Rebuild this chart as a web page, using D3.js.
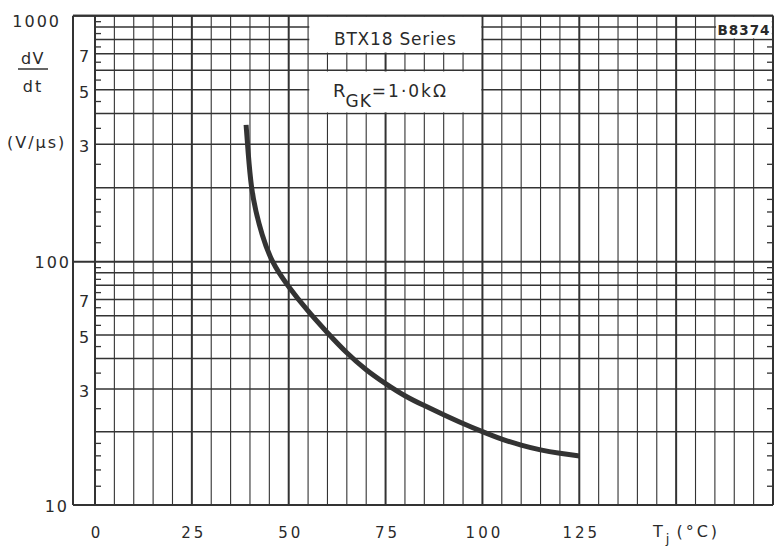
<!DOCTYPE html>
<html>
<head>
<meta charset="utf-8">
<script src="https://cdn.jsdelivr.net/npm/d3@7"></script>
<style>
  body { margin: 0; background: #fff; }
  text { font-family: "DejaVu Sans", sans-serif; fill: #2a2a2a; }
</style>
</head>
<body>
<div id="viz"></div>
<script>
// curve (Tj in degC, dV/dt in V/us)
const temps = [39, 39.5, 40.3, 41.5, 43, 45.5, 49.6, 55, 60, 65, 70, 75, 80, 85, 90, 95, 100, 105, 110, 115, 120, 125];
const dvdt  = [360, 280, 200, 160, 130, 100, 80, 62.4, 51, 42, 35.8, 31.5, 28, 25.6, 23.5, 21.6, 20, 18.6, 17.6, 16.8, 16.3, 15.9];

const xTickLabels = [0, 25, 50, 75, 100, 125];
const yDecades = [10, 100, 1000];
const yDigitLabels = [3, 5, 7];
const yGrid = [10, 20, 30, 40, 50, 60, 70, 80, 90, 100, 200, 300, 400, 500, 600, 700, 800, 900, 1000];
const yMinor = [12, 14, 16, 18, 25, 35, 45, 55, 65, 75, 85, 95, 120, 140, 160, 180, 250, 350, 450, 550, 650, 750, 850, 950];

const width = 775, height = 547;
const svg = d3.select("#viz").append("svg").attr("width", width).attr("height", height);

const x = d3.scaleLinear().domain([0, 175]).range([95, 773]);
const y = d3.scaleLog().domain([10, 100, 1000]).range([505, 261.7, 15.7]);
const ink = "#333";

// vertical grid, every 5 degC, heavier every 25
const g = svg.append("g");
g.selectAll("line.v").data(d3.range(0, 176, 5)).enter().append("line")
  .attr("x1", d => x(d)).attr("x2", d => x(d))
  .attr("y1", y(1000)).attr("y2", y(10))
  .attr("stroke", ink)
  .attr("stroke-width", d => d % 25 === 0 ? 2 : 1.1);

// horizontal grid
g.selectAll("line.h").data(yGrid).enter().append("line")
  .attr("x1", d => yDecades.includes(d) ? 73 : x(0)).attr("x2", x(175))
  .attr("y1", d => y(d)).attr("y2", d => y(d))
  .attr("stroke", ink)
  .attr("stroke-width", d => yDecades.includes(d) ? 2 : 1.5);

// minor ticks on both edges
svg.append("g").attr("transform", `translate(${x(0)},0)`)
  .call(d3.axisRight(y).tickValues(yMinor).tickSize(6).tickFormat(""))
  .call(a => a.select(".domain").remove())
  .call(a => a.selectAll("line").attr("stroke", ink).attr("stroke-width", 1.3));
svg.append("g").attr("transform", `translate(${x(175)},0)`)
  .call(d3.axisLeft(y).tickValues(yMinor).tickSize(6).tickFormat(""))
  .call(a => a.select(".domain").remove())
  .call(a => a.selectAll("line").attr("stroke", ink).attr("stroke-width", 1.3));

// outer strip frame on the left
svg.append("line").attr("x1", 73).attr("x2", 73).attr("y1", y(1000)).attr("y2", y(10))
  .attr("stroke", ink).attr("stroke-width", 2);
svg.append("line").attr("x1", 73).attr("x2", x(175)).attr("y1", y(1000)).attr("y2", y(1000))
  .attr("stroke", ink).attr("stroke-width", 2);
svg.append("line").attr("x1", x(175)).attr("x2", x(175)).attr("y1", y(1000)).attr("y2", y(10))
  .attr("stroke", ink).attr("stroke-width", 2);

// white boxes for the captions
const boxes = [
  {x0: 55, x1: 100, y0: 1000, y1: 700},
  {x0: 55, x1: 100, y0: 600, y1: 400},
  {x0: 160, x1: 175, y0: 1000, y1: 800}
];
svg.selectAll("rect.box").data(boxes).enter().append("rect")
  .attr("x", d => x(d.x0) + 1.2).attr("width", d => x(d.x1) - x(d.x0) - 2.4)
  .attr("y", d => y(d.y0) + 1.2).attr("height", d => y(d.y1) - y(d.y0) - 2.4)
  .attr("fill", "#fff");

svg.append("text").attr("x", x(77.5)).attr("y", 45).attr("text-anchor", "middle")
  .attr("font-size", 17).attr("letter-spacing", 0.8).text("BTX18 Series");

const rgk = svg.append("text").attr("x", 333).attr("y", 97).attr("font-size", 18);
rgk.append("tspan").text("R");
rgk.append("tspan").attr("dy", 10).attr("font-size", 17).attr("letter-spacing", 1).text("GK");
rgk.append("tspan").attr("dy", -10).attr("font-size", 17).attr("letter-spacing", 2).text("=1·0kΩ");

svg.append("text").attr("x", 744).attr("y", 35).attr("text-anchor", "middle")
  .attr("font-size", 13.5).attr("font-weight", "bold").attr("letter-spacing", 1).text("B8374");

// the curve
const pts = temps.map((t, i) => [t, dvdt[i]]);
svg.append("path").datum(pts)
  .attr("fill", "none").attr("stroke", "#333").attr("stroke-width", 5)
  .attr("d", d3.line().x(d => x(d[0])).y(d => y(d[1])).curve(d3.curveBasis));

// y labels
const yLab = svg.append("g");
yLab.append("text").attr("x", 61).attr("y", y(1000) + 11).attr("text-anchor", "end")
  .attr("font-size", 16).attr("letter-spacing", 2).text("1000");
yLab.append("text").attr("x", 71).attr("y", y(100) + 6).attr("text-anchor", "end")
  .attr("font-size", 16).attr("letter-spacing", 2).text("100");
yLab.append("text").attr("x", 69).attr("y", y(10) + 7).attr("text-anchor", "end")
  .attr("font-size", 16).attr("letter-spacing", 2).text("10");

[10, 100].forEach(dec => {
  yLab.selectAll(null).data(yDigitLabels).enter().append("text")
    .attr("x", 84).attr("y", d => y(d * dec) + 8)
    .attr("text-anchor", "middle").attr("font-size", 16).text(d => d);
});

// y title
yLab.append("text").attr("x", 33).attr("y", 64).attr("text-anchor", "middle")
  .attr("font-size", 16).attr("letter-spacing", 1.5).text("dV");
yLab.append("line").attr("x1", 18).attr("x2", 48).attr("y1", 69).attr("y2", 69)
  .attr("stroke", ink).attr("stroke-width", 1.5);
yLab.append("text").attr("x", 33).attr("y", 92).attr("text-anchor", "middle")
  .attr("font-size", 16).attr("letter-spacing", 2).text("dt");
yLab.append("text").attr("x", 7).attr("y", 148)
  .attr("font-size", 16).attr("letter-spacing", 2).text("(V/μs)");

// x axis labels
svg.append("g").attr("transform", `translate(0,${y(10)})`)
  .call(d3.axisBottom(x).tickValues(xTickLabels).tickSize(0).tickPadding(22))
  .call(a => a.select(".domain").remove())
  .call(a => a.selectAll("text").attr("font-size", 15).attr("letter-spacing", 3)
    .attr("font-family", "DejaVu Sans").attr("fill", "#2a2a2a").attr("dx", 1.5));

const tj = svg.append("text").attr("x", 653).attr("y", 537).attr("font-size", 16).attr("letter-spacing", 3);
tj.append("tspan").text("T");
tj.append("tspan").attr("dy", 6).attr("font-size", 13).text("j");
tj.append("tspan").attr("dy", -6).attr("dx", 4).text("(°C)");
</script>
</body>
</html>
